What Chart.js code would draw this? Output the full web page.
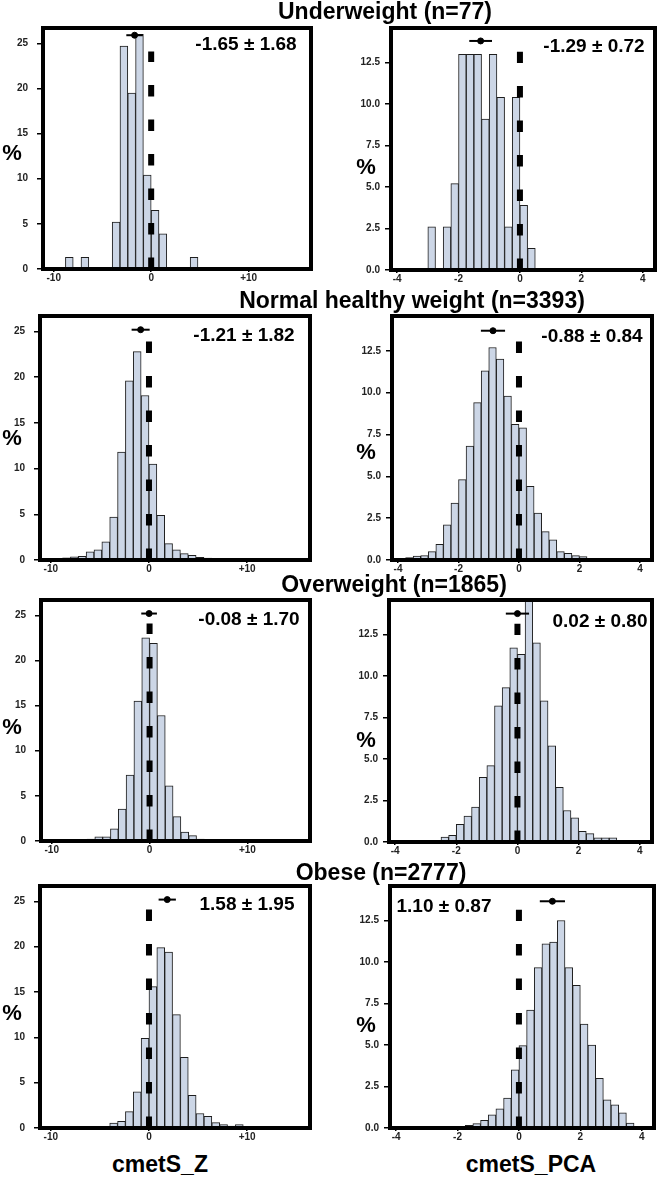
<!DOCTYPE html>
<html>
<head>
<meta charset="utf-8">
<script src="https://cdn.jsdelivr.net/npm/chart.js@4.4.0/dist/chart.umd.min.js"></script>
<style>
  body { margin: 0; background: #fff; }
  #fig { position: relative; width: 662px; height: 1180px; overflow: hidden;
         font-family: "Liberation Sans", Arial, sans-serif; font-weight: bold; color: #000; }
  #fig canvas { position: absolute; }
  .lbl { position: absolute; transform: translate(-50%, -50%); white-space: nowrap; line-height: 1; z-index: 2; }
  .title { font-size: 23px; }
  .stat { font-size: 19px; }
  .pct { font-size: 22px; }
  .axname { font-size: 23px; }
</style>
</head>
<body>
<div id="fig"></div>
<script>
const groupTitles = ['Underweight (n=77)', 'Normal healthy weight (n=3393)', 'Overweight (n=1865)', 'Obese (n=2777)'];
const axisNames = ['cmetS_Z', 'cmetS_PCA'];

// histogram bins (% of group); each panel starts at the given left bin edge
const zBinWidth = 0.8;
const pcaBinWidth = 0.25;

const zStart = [-8.8, -10.4, -8.0, -4.0];
const zUnderweight = [1.3, 0, 1.3, 0, 0, 0, 5.2, 24.7, 19.5, 26.0, 10.4, 6.5, 3.9, 0, 0, 0, 1.3];
const zNormal = [0.1, 0.15, 0.25, 0.35, 0.4, 0.9, 1.1, 2.0, 4.7, 11.8, 19.6, 22.8, 18.0, 10.5, 4.9, 1.8, 1.1, 0.7, 0.5, 0.3, 0.2];
const zOverweight = [0.05, 0.15, 0.2, 0.45, 0.45, 1.35, 3.55, 7.3, 15.5, 22.5, 21.9, 13.9, 6.1, 2.7, 1.0, 0.6, 0.2, 0.1, 0.05, 0.05];
const zObese = [0.55, 0.73, 1.8, 4.0, 9.9, 15.6, 19.9, 19.4, 12.5, 7.8, 3.6, 1.6, 1.3, 0.6, 0.37, 0.2, 0.37, 0.15];

const pcaStart = [-3.0, -4.0, -2.5, -1.75];
const pcaUnderweight = [2.6, 0, 2.6, 5.2, 13.0, 13.0, 13.0, 9.1, 13.0, 10.4, 2.6, 10.4, 3.9, 1.3];
const pcaNormal = [0.1, 0.14, 0.24, 0.26, 0.5, 0.93, 2.1, 3.4, 4.8, 6.8, 9.4, 11.3, 12.7, 12.0, 9.8, 8.1,
                   7.9, 4.4, 2.8, 1.7, 1.2, 0.5, 0.4, 0.26, 0.2, 0.1, 0.08, 0.06, 0.08, 0.06];
const pcaOverweight = [0.3, 0.4, 1.06, 1.56, 2.1, 3.9, 4.6, 8.2, 9.3, 11.7, 11.3, 15.0, 12.0, 8.5, 5.8, 3.3,
                       1.9, 1.45, 0.65, 0.5, 0.25, 0.25, 0.25];
const pcaObese = [0.16, 0.26, 0.46, 0.8, 1.16, 1.8, 3.5, 4.96, 7.1, 9.66, 11.1, 11.2, 12.5, 9.66, 8.6, 6.26,
                  5.0, 3.0, 1.7, 1.4, 0.92, 0.3];

// mean markers (as drawn) with error half-width and height
const zMarkX = [-1.70, -0.85, -0.05, 1.86];
const zMarkErr = [0.85, 0.92, 0.8, 0.88];
const zMarkY = [25.9, 25.2, 25.2, 25.2];
const pcaMarkX = [-1.28, -0.86, 0.0, 1.09];
const pcaMarkErr = [0.37, 0.4, 0.38, 0.41];
const pcaMarkY = [13.8, 13.7, 13.76, 13.66];

const zStats = ['-1.65 ± 1.68', '-1.21 ± 1.82', '-0.08 ± 1.70', '1.58 ± 1.95'];
const pcaStats = ['-1.29 ± 0.72', '-0.88 ± 0.84', '0.02 ± 0.80', '1.10 ± 0.87'];

// axes
const zXTicks = [-10, 0, 10];
const zYTicks = [0, 5, 10, 15, 20, 25];
const pcaXTicks = [-4, -2, 0, 2, 4];
const pcaYTicks = [0, 2.5, 5, 7.5, 10, 12.5];
const zXRange = [-11.1, 16.4];
const pcaXRange = [-4.2, 4.4];
const zYMax = 26.7;
const pcaYMax = 14.58;
const zDashTop = 24.1;
const pcaDashTop = 13.15;

// layout (page px)
const boxes = [
  [{l: 43, t: 27, r: 312, b: 269}, {l: 391, t: 27, r: 656, b: 270}],
  [{l: 40, t: 315, r: 311, b: 560}, {l: 392, t: 315, r: 653, b: 560}],
  [{l: 41, t: 599, r: 311, b: 841}, {l: 389, t: 599, r: 653, b: 842}],
  [{l: 40, t: 885, r: 311, b: 1128}, {l: 390, t: 885, r: 655, b: 1128}]
];
const titlePos = [[385, 10.5], [412, 299.5], [394, 584], [381, 872]];
const statPos = [[[246, 43], [594, 45]], [[244, 334], [592, 335]], [[249, 618], [600, 620]], [[247, 903], [444, 905]]];
const pctPos = [[[12, 153], [366, 167]], [[12, 438], [366, 452]], [[12, 727], [366, 740]], [[12, 1013], [366, 1025]]];
const axisPos = [[160, 1164], [531, 1164]];

const BAR_FILL = 'rgb(204, 214, 230)';
const BAR_EDGE = '#1e1e1e';
const fig = document.getElementById('fig');
Chart.defaults.font.family = '"Liberation Sans", Arial, sans-serif';

function histData(start, width, values) {
    return values.map((v, i) => ({ x: start + (i + 0.5) * width, y: v }));
}

function addLabel(text, cls, pos) {
    const d = document.createElement('div');
    d.className = 'lbl ' + cls;
    d.textContent = text;
    d.style.left = pos[0] + 'px';
    d.style.top = pos[1] + 'px';
    fig.appendChild(d);
}

function makePanel(box, isZ, row) {
    const YW = 40, PAD = 4, XH = 22;
    const cx = box.l - YW, cy = box.t - PAD;
    const w = box.r - box.l + YW + PAD, h = box.b - box.t + PAD + XH;
    const canvas = document.createElement('canvas');
    canvas.width = w; canvas.height = h;
    canvas.style.left = cx + 'px'; canvas.style.top = cy + 'px';
    canvas.style.width = w + 'px'; canvas.style.height = h + 'px';
    fig.appendChild(canvas);

    const zSeries = [zUnderweight, zNormal, zOverweight, zObese];
    const pcaSeries = [pcaUnderweight, pcaNormal, pcaOverweight, pcaObese];
    const bars = isZ ? histData(zStart[row], zBinWidth, zSeries[row])
                     : histData(pcaStart[row], pcaBinWidth, pcaSeries[row]);
    const mx = isZ ? zMarkX[row] : pcaMarkX[row];
    const me = isZ ? zMarkErr[row] : pcaMarkErr[row];
    const my = isZ ? zMarkY[row] : pcaMarkY[row];
    const xr = isZ ? zXRange : pcaXRange;
    const xTicks = isZ ? zXTicks : pcaXTicks;
    const yTicks = isZ ? zYTicks : pcaYTicks;

    const tickFont = { size: 10, weight: 'bold' };
    const edge = { display: true, width: 4, color: '#000', z: 1 };

    new Chart(canvas, {
        type: 'bar',
        data: {
            datasets: [
                { type: 'bar', data: bars, backgroundColor: BAR_FILL, borderColor: BAR_EDGE,
                  borderWidth: 1, barPercentage: 1, categoryPercentage: 1, order: 3 },
                { type: 'line', data: [{x: 0, y: 0}, {x: 0, y: isZ ? zDashTop : pcaDashTop}],
                  borderColor: '#000', borderWidth: 6, borderDash: [11.5, 23], borderCapStyle: 'butt',
                  pointRadius: 0, order: 2 },
                { type: 'line', data: [{x: mx - me, y: my}, {x: mx + me, y: my}],
                  borderColor: '#000', borderWidth: 2, pointRadius: 0, order: 1 },
                { type: 'scatter', data: [{x: mx, y: my}], backgroundColor: '#000',
                  borderColor: '#000', pointRadius: 3, order: 0 }
            ]
        },
        options: {
            responsive: false,
            animation: false,
            events: [],
            layout: { padding: { top: PAD, right: PAD, left: 0, bottom: 0 } },
            plugins: { legend: { display: false }, tooltip: { enabled: false } },
            scales: {
                x: {
                    type: 'linear', position: 'bottom', min: xr[0], max: xr[1], offset: false,
                    afterBuildTicks: s => { s.ticks = xTicks.map(v => ({ value: v })); },
                    afterFit: s => { s.height = XH; s.paddingLeft = 0; s.paddingRight = 0; },
                    ticks: {
                        autoSkip: false, maxRotation: 0, padding: 0, color: '#222', font: tickFont,
                        callback: v => (isZ && v > 0 ? '+' + v : String(v))
                    },
                    grid: { display: true, drawOnChartArea: false, drawTicks: true, tickLength: 3,
                            lineWidth: 1.5, color: '#000', offset: false },
                    border: edge
                },
                y: {
                    type: 'linear', position: 'left', min: 0, max: isZ ? zYMax : pcaYMax,
                    afterBuildTicks: s => { s.ticks = yTicks.map(v => ({ value: v })); },
                    afterFit: s => { s.width = YW; s.paddingTop = 0; s.paddingBottom = 0; },
                    ticks: {
                        padding: isZ ? 9 : 5, color: '#222', font: tickFont,
                        callback: v => (isZ ? String(v) : v.toFixed(1))
                    },
                    grid: { display: true, drawOnChartArea: false, drawTicks: true, tickLength: 6,
                            lineWidth: 1.5, color: '#000' },
                    border: edge
                },
                xTop: {
                    type: 'linear', position: 'top', display: true,
                    ticks: { display: false }, grid: { display: false, drawTicks: false, lineWidth: 4 },
                    border: edge,
                    afterFit: s => { s.height = 0; s.paddingLeft = 0; s.paddingRight = 0; }
                },
                yRight: {
                    type: 'linear', position: 'right', display: true,
                    ticks: { display: false }, grid: { display: false, drawTicks: false, lineWidth: 4 },
                    border: edge,
                    afterFit: s => { s.width = 0; s.paddingTop = 0; s.paddingBottom = 0; }
                }
            }
        }
    });
}

for (let row = 0; row < 4; row++) {
    makePanel(boxes[row][0], true, row);
    makePanel(boxes[row][1], false, row);
    addLabel(groupTitles[row], 'title', titlePos[row]);
    addLabel(zStats[row], 'stat', statPos[row][0]);
    addLabel(pcaStats[row], 'stat', statPos[row][1]);
    addLabel('%', 'pct', pctPos[row][0]);
    addLabel('%', 'pct', pctPos[row][1]);
}
addLabel(axisNames[0], 'axname', axisPos[0]);
addLabel(axisNames[1], 'axname', axisPos[1]);
</script>
</body>
</html>
